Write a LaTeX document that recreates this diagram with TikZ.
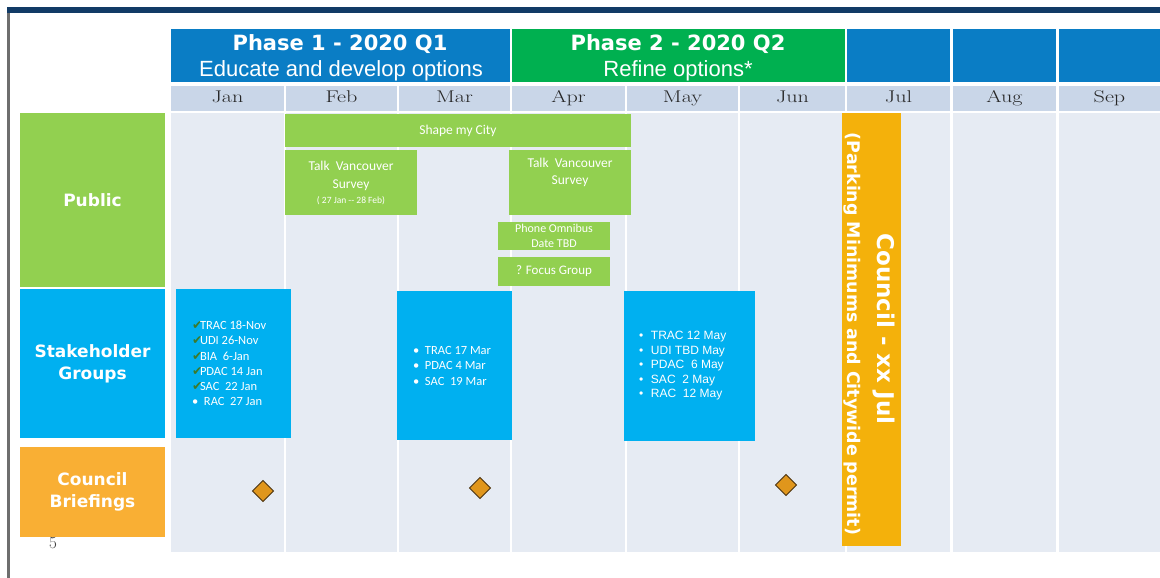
\documentclass[tikz,border=0pt]{standalone}
\usepackage{fontspec}
\usepackage{tikz}
\usetikzlibrary{shapes.geometric}

\newfontfamily\arialfont{Liberation Sans}
\newfontfamily\blackfont{DejaVu Sans}
\newfontfamily\calibrifont{Carlito}
\newfontfamily\symbolfont{DejaVu Sans}
\newfontfamily\monthfont{Latin Modern Roman}[FakeStretch=1.3]

\definecolor{navy}{HTML}{123B66}
\definecolor{framegrey}{HTML}{6E6E6E}
\definecolor{phaseblue}{HTML}{0A7DC5}
\definecolor{phasegreen}{HTML}{00B050}
\definecolor{monthgrey}{HTML}{C9D6E8}
\definecolor{colgrey}{HTML}{E6EBF3}
\definecolor{pubgreen}{HTML}{92D050}
\definecolor{stakeblue}{HTML}{00B0F0}
\definecolor{briefingorange}{HTML}{F9AF34}
\definecolor{councilbar}{HTML}{F4B10B}
\definecolor{diamondfill}{HTML}{E0961C}
\definecolor{diamondline}{HTML}{4A3210}
\definecolor{tickgreen}{HTML}{3C7A2A}

\newcommand{\fsz}[2]{\fontsize{#1}{#2}\selectfont}
\newcommand{\checkmk}{\makebox[8pt][l]{\symbolfont\color{tickgreen}\fsz{12.5}{12}✔}}
\newcommand{\bulitem}{\makebox[12pt][l]{•}}

\begin{document}
\begin{tikzpicture}
      [x=1pt,y=-1pt,every node/.style={inner sep=0pt,outer sep=0pt}]

      \tikzstyle{block} = [rectangle,anchor=north west]
      \tikzstyle{month} = [block,fill=monthgrey,minimum height=25pt,text height=12pt,text depth=4pt,
                           text=black!85,font=\monthfont\fsz{17}{18}]
      \tikzstyle{column} = [block,fill=colgrey,minimum height=439pt]
      \tikzstyle{phase} = [block,minimum height=53pt]
      \tikzstyle{title} = [anchor=base,text=white]
      \tikzstyle{rowhead} = [block,minimum width=145pt,text=white,align=center,font=\blackfont\bfseries\fsz{17}{22}]
      \tikzstyle{public} = [block,fill=pubgreen,text=white,align=center,font=\calibrifont\fsz{13.5}{18}]
      \tikzstyle{stake} = [block,fill=stakeblue]
      \tikzstyle{list} = [anchor=west,text=white,align=left]
      \tikzstyle{briefing} = [diamond,draw=diamondline,fill=diamondfill,line width=0.9pt,minimum size=21pt]

      \useasboundingbox (0,0) rectangle (1160,578);

      % page frame
      \fill[navy] (7,7) rectangle (1160,13);
      \fill[framegrey] (7,13) rectangle (10,578);

      % phases
      \node[phase,fill=phaseblue,minimum width=339pt]  (ph1) at (171,29) {};
      \node[phase,fill=phasegreen,minimum width=333pt] (ph2) at (512,29) {};
      \node[phase,fill=phaseblue,minimum width=103pt]  (ph3) at (847,29) {};
      \node[phase,fill=phaseblue,minimum width=103pt]  (ph4) at (953,29) {};
      \node[phase,fill=phaseblue,minimum width=101pt]  (ph5) at (1059,29) {};

      \node[title,font=\blackfont\bfseries\fsz{21}{21}] (ph1-title) at (340,51) {Phase 1 - 2020 Q1};
      \node[title,font=\arialfont\fsz{22}{22}]          (ph1-sub)   at (341,77) {Educate and develop options};
      \node[title,font=\blackfont\bfseries\fsz{21}{21}] (ph2-title) at (678,51) {Phase 2 - 2020 Q2};
      \node[title,font=\arialfont\fsz{22}{22}]          (ph2-sub)   at (678,77) {Refine options*};

      % months and columns
      \foreach \m/\x/\w in {Jan/171/113,Feb/286/111,Mar/399/111,Apr/512/113,May/627/111,
                            Jun/740/105,Jul/847/103,Aug/953/103,Sep/1059/101}{
        \node[month,minimum width=\w pt]  (\m)     at (\x,86)  {\m};
        \node[column,minimum width=\w pt] (\m-col) at (\x,113) {};
      }

      % row headings
      \node[rowhead,fill=pubgreen,minimum height=174pt]       (public)   at (20,113) {Public};
      \node[rowhead,fill=stakeblue,minimum height=149pt]      (stake)    at (20,289) {Stakeholder\\Groups};
      \node[rowhead,fill=briefingorange,minimum height=90pt]  (briefing) at (20,447) {Council\\Briefings};

      % public
      \node[public,minimum width=346pt,minimum height=33pt] (shape) at (285,114) {Shape my City};
      \node[public,minimum width=132pt,minimum height=65pt] (tv1)   at (285,150)
            {Talk\ \ Vancouver\\Survey\\[-3pt]{\fsz{9.5}{10}( 27 Jan -- 28 Feb)}};
      \node[public,minimum width=122pt,minimum height=65pt] (tv2)   at (509,150) {};
      \node[anchor=north,text=white,align=center,font=\calibrifont\fsz{13.5}{17}]
            (tv2-text) at ([yshift=-8pt]tv2.north) {Talk\ \ Vancouver\\Survey};
      \node[public,minimum width=112pt,minimum height=28pt,font=\calibrifont\fsz{12}{15}] (phone) at (498,222)
            {Phone Omnibus\\Date TBD};
      \node[public,minimum width=112pt,minimum height=29pt,font=\calibrifont\fsz{13}{15}] (focus) at (498,257)
            {? Focus Group};

      % stakeholder groups
      \node[stake,minimum width=115pt,minimum height=149pt] (jan-stake) at (176,289) {};
      \node[stake,minimum width=115pt,minimum height=149pt] (mar-stake) at (397,291) {};
      \node[stake,minimum width=131pt,minimum height=150pt] (may-stake) at (624,291) {};

      \node[list,font=\calibrifont\fsz{12.5}{15.2}] (jan-list) at ([xshift=16pt]jan-stake.west)
            {\checkmk TRAC 18-Nov\\\checkmk UDI 26-Nov\\\checkmk BIA\ \ 6-Jan\\
             \checkmk PDAC 14 Jan\\\checkmk SAC\ \ 22 Jan\\\bulitem RAC\ \ 27 Jan};
      \node[list,font=\calibrifont\fsz{12.5}{15.5}] (mar-list) at ([xshift=16pt]mar-stake.west)
            {\bulitem TRAC 17 Mar\\\bulitem PDAC 4 Mar\\\bulitem SAC\ \ 19 Mar};
      \node[list,font=\arialfont\fsz{12}{14.5}] (may-list) at ([xshift=15pt]may-stake.west)
            {\bulitem TRAC 12 May\\\bulitem UDI TBD May\\\bulitem PDAC\ \ 6 May\\
             \bulitem SAC\ \ 2 May\\\bulitem RAC\ \ 12 May};

      % council decision
      \node[block,fill=councilbar,minimum width=59pt,minimum height=433pt] (council) at (842,113) {};
      \node[rotate=-90,text=white,font=\blackfont\bfseries\fsz{23}{23}] (council-title) at (884,329)
            {Council - xx Jul};
      \node[rotate=-90,text=white,font=\blackfont\bfseries\fsz{17.4}{17.4}] (council-note) at (852,334)
            {(Parking Minimums and Citywide permit)};

      % briefings
      \node[briefing] (d-jan) at (263,491) {};
      \node[briefing] (d-mar) at (480,488) {};
      \node[briefing] (d-jun) at (786,485) {};

      \node[font=\fsz{17}{17},text=black!75] (pagenum) at (53,543) {5};
\end{tikzpicture}
\end{document}
